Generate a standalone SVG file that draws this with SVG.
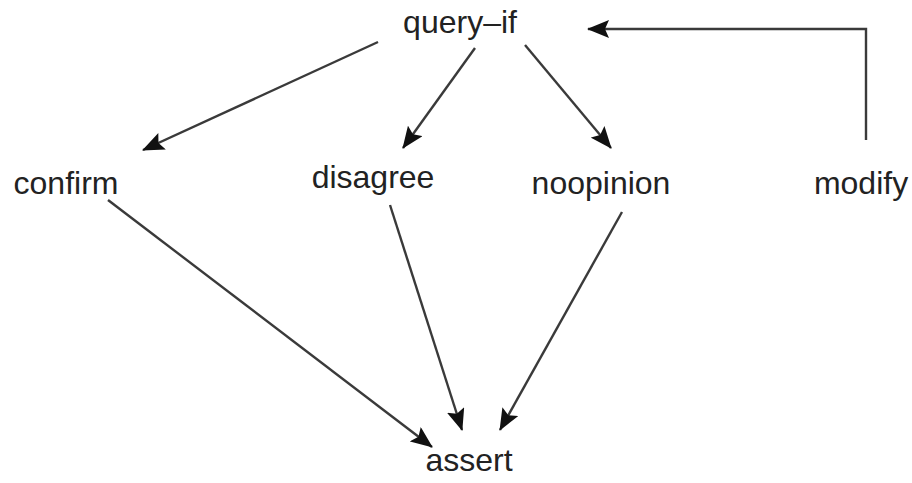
<svg xmlns="http://www.w3.org/2000/svg" width="912" height="483" viewBox="0 0 912 483">
  <defs>
    <marker id="arrow" viewBox="0 0 22 18" refX="21" refY="9" markerWidth="22" markerHeight="18" markerUnits="userSpaceOnUse" orient="auto">
      <path d="M0,0 L22,9 L0,18 L4,9 Z" fill="#111"/>
    </marker>
  </defs>
  <style>
    .label { font-family: "Liberation Sans", Arial, sans-serif; font-size: 32px; fill: #222; }
    .edge { fill: none; stroke: #3a3a3a; stroke-width: 2.4; marker-end: url(#arrow); }
  </style>
  <rect width="912" height="483" fill="#fff"/>

  <g id="connectors">
    <line class="edge" x1="378" y1="42" x2="143" y2="150"/>
    <line class="edge" x1="475" y1="48" x2="403" y2="148"/>
    <line class="edge" x1="525" y1="45" x2="611" y2="148"/>
    <path class="edge" d="M866,140 L866,29 L588,29"/>
    <line class="edge" x1="108" y1="200" x2="432" y2="447"/>
    <line class="edge" x1="390" y1="205" x2="462" y2="430"/>
    <line class="edge" x1="622" y1="212" x2="500" y2="430"/>
  </g>

  <g id="query-if"><text class="label" x="460" y="33" text-anchor="middle">query–if</text></g>
  <g id="confirm"><text class="label" x="66" y="194" text-anchor="middle">confirm</text></g>
  <g id="disagree"><text class="label" x="373" y="188" text-anchor="middle">disagree</text></g>
  <g id="noopinion"><text class="label" x="601" y="194" text-anchor="middle">noopinion</text></g>
  <g id="modify"><text class="label" x="861" y="194" text-anchor="middle">modify</text></g>
  <g id="assert"><text class="label" x="469" y="471" text-anchor="middle">assert</text></g>
</svg>
